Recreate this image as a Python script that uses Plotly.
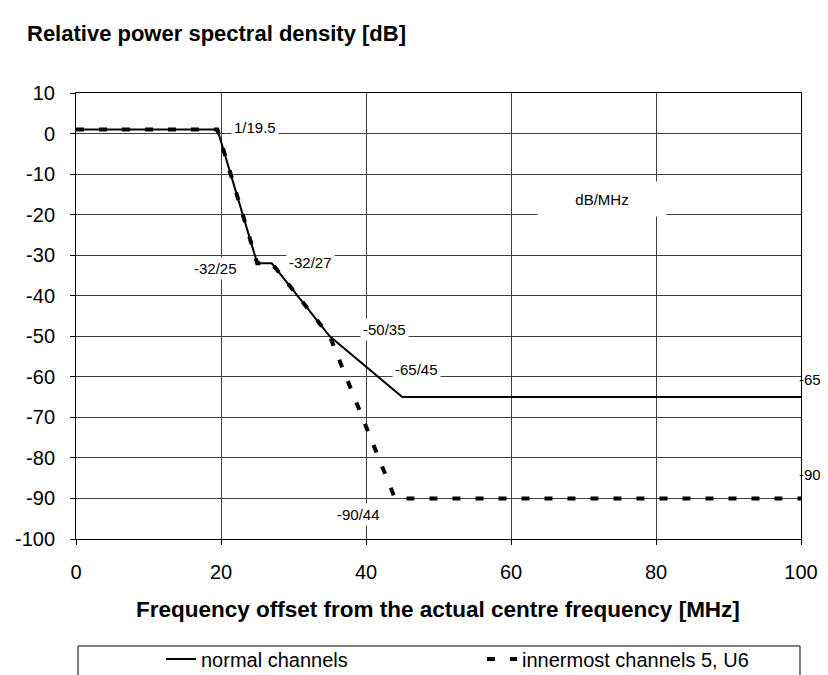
import plotly.graph_objects as go

# ---- data ----
freq_normal = [0, 19.5, 25, 27, 35, 45, 100]
psd_normal = [1, 1, -32, -32, -50, -65, -65]
freq_inner = [0, 19.5, 25, 27, 35, 44, 100]
psd_inner = [1, 1, -32, -32, -50, -90, -90]
series_names = ["normal channels", "innermost channels 5, U6"]
x_ticks = [0, 20, 40, 60, 80, 100]
y_ticks = [10, 0, -10, -20, -30, -40, -50, -60, -70, -80, -90, -100]
point_labels = ["1/19.5", "-32/25", "-32/27", "-50/35", "-65/45", "-90/44"]
point_label_x = [24.7, 19.2, 32.4, 42.5, 47.0, 38.9]
point_label_y = [1.4, -33.2, -31.7, -48.3, -58.1, -94.0]
unit_label = "dB/MHz"
end_labels = ["-65", "-90"]
end_label_y = [-60.6, -84.1]

FONT = "Liberation Sans, Arial, sans-serif"

fig = go.Figure()
fig.add_trace(go.Scatter(x=freq_normal, y=psd_normal, mode="lines", name=series_names[0],
                         line=dict(color="black", width=2)))
fig.add_trace(go.Scatter(x=freq_inner, y=psd_inner, mode="lines", name=series_names[1],
                         line=dict(color="black", width=4, dash="8px,15px")))

annotations = []
for t, x, y in zip(point_labels, point_label_x, point_label_y):
    annotations.append(dict(x=x, y=y, xref="x", yref="y", text=t, showarrow=False,
                            font=dict(family=FONT, size=15, color="black"),
                            bgcolor="white", borderpad=2))
annotations.append(dict(x=72.6, y=-16.1, xref="x", yref="y", text=unit_label, showarrow=False,
                        font=dict(family=FONT, size=15, color="black"),
                        bgcolor="white", width=124, height=30, borderpad=2))
for t, y in zip(end_labels, end_label_y):
    annotations.append(dict(x=1.030, y=y, xref="paper", yref="y", text=t, showarrow=False,
                            font=dict(family=FONT, size=15, color="black")))
annotations.append(dict(x=-0.070, y=1.1345, xref="paper", yref="paper", xanchor="left",
                        yanchor="middle", showarrow=False,
                        text="<b>Relative power spectral density [dB]</b>",
                        font=dict(family=FONT, size=22, color="black")))
annotations.append(dict(x=0.499, y=-0.159, xref="paper", yref="paper", xanchor="center",
                        yanchor="middle", showarrow=False,
                        text="<b>Frequency offset from the actual centre frequency [MHz]</b>",
                        font=dict(family=FONT, size=22.5, color="black")))

fig.update_layout(
    width=828, height=675, autosize=False,
    margin=dict(l=68, r=35, t=85, b=144, pad=0, autoexpand=False),
    paper_bgcolor="white", plot_bgcolor="white",
    font=dict(family=FONT, size=20, color="black"),
    annotations=annotations,
    showlegend=True,
    legend=dict(orientation="h", xref="container", yref="container",
                x=153 / 828, xanchor="left", y=24 / 675, yanchor="middle",
                bgcolor="rgba(0,0,0,0)", borderwidth=0, font=dict(family=FONT, size=20),
                entrywidth=276, entrywidthmode="pixels", itemwidth=30),
    shapes=[dict(type="rect", xref="paper", yref="paper", x0=0.0028, x1=0.9986,
                 y0=-0.36, y1=-0.2399, line=dict(color="black", width=1),
                 fillcolor="rgba(0,0,0,0)", layer="above")],
)
fig.update_xaxes(range=[0, 100], tickvals=x_ticks, ticktext=[str(v) for v in x_ticks],
                 showgrid=True, gridcolor="#404040", gridwidth=1,
                 showline=True, linecolor="black", linewidth=1, mirror=True,
                 ticks="outside", ticklen=5, tickcolor="black", zeroline=False,
                 tickfont=dict(family=FONT, size=20), ticklabelstandoff=10, automargin=False)
fig.update_yaxes(range=[-100, 10], tickvals=y_ticks, ticktext=[str(v) for v in y_ticks],
                 showgrid=True, gridcolor="#404040", gridwidth=1,
                 showline=True, linecolor="black", linewidth=1, mirror=True,
                 ticks="outside", ticklen=5, tickcolor="black", zeroline=False,
                 tickfont=dict(family=FONT, size=20), ticklabelstandoff=11, automargin=False)

fig.write_html("out.html")
